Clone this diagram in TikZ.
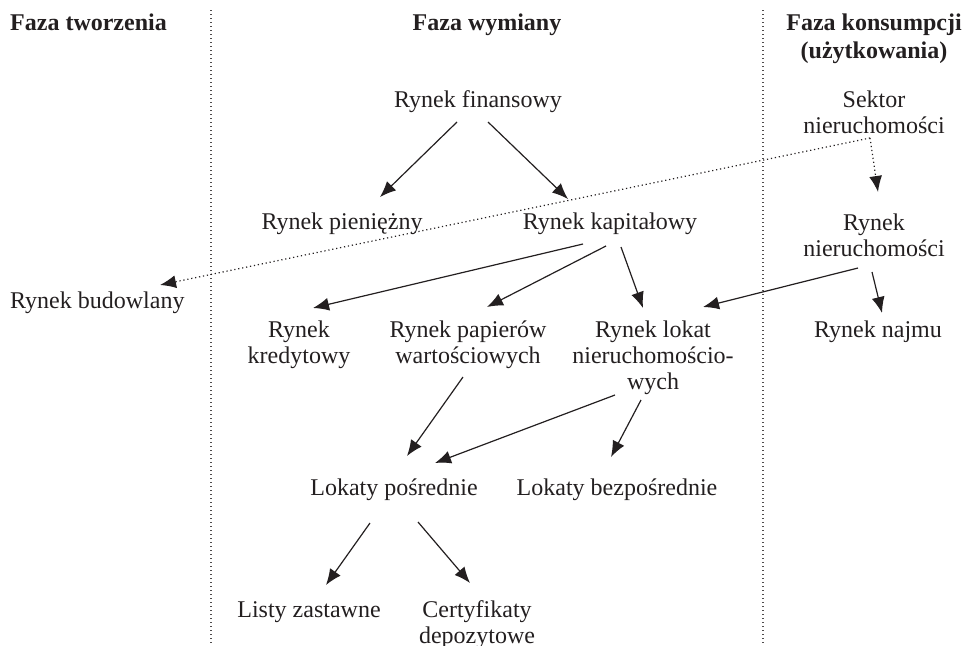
\documentclass[tikz,border=0pt]{standalone}
\usepackage{fontspec}
\setmainfont{Liberation Serif}
\usetikzlibrary{arrows.meta,calc}
\definecolor{ink}{HTML}{231F20}
\begin{document}
\begin{tikzpicture}[x=1pt,y=-1pt,
  lbl/.style={font=\fontsize{24}{26}\selectfont, inner sep=0pt, align=center, anchor=base, text=ink},
  hdr/.style={lbl, font=\fontsize{24}{28}\selectfont\bfseries},
  arr/.style={draw=ink, line width=1.2pt, -{Latex[length=16pt,width=13pt]}},
  dotarr/.style={draw=ink, line width=1.2pt, dash pattern=on 1.2pt off 2.8pt, -{Latex[length=16pt,width=13pt]}},
  sep/.style={draw=ink!80, line width=1.1pt, dash pattern=on 1.2pt off 2.8pt}]
\useasboundingbox (0,0) rectangle (965,645);
% column separators
\draw[sep] (211,10) -- (211,645);
\draw[sep] (763,10) -- (763,645);
% headers (anchor = baseline of the last line)
\node[hdr, anchor=base west] (h1) at (10,30) {Faza tworzenia};
\node[hdr] (h2) at (487,30) {Faza wymiany};
\node[hdr] (h3) at (874,58) {Faza konsumpcji\\(użytkowania)};
% nodes
\node[lbl] (fin) at (478,107) {Rynek finansowy};
\node[lbl] (sek) at (874,133) {Sektor\\nieruchomości};
\node[lbl] (pien) at (342,229) {Rynek pieniężny};
\node[lbl] (kap) at (610,229) {Rynek kapitałowy};
\node[lbl] (rnier) at (874,256) {Rynek\\nieruchomości};
\node[lbl, anchor=base west] (bud) at (10,308) {Rynek budowlany};
\node[lbl] (kred) at (299,363) {Rynek\\kredytowy};
\node[lbl] (pap) at (468,363) {Rynek papierów\\wartościowych};
\node[lbl] (lok) at (653,389) {Rynek lokat\\nieruchomościo-\\wych};
\node[lbl] (najm) at (878,337) {Rynek najmu};
\node[lbl] (lpos) at (394,495) {Lokaty pośrednie};
\node[lbl] (lbez) at (617,495) {Lokaty bezpośrednie};
\node[lbl] (list) at (309,617) {Listy zastawne};
\node[lbl] (cert) at (477,643) {Certyfikaty\\depozytowe};
% arrows
\draw[arr] ($(fin.base)+(-21,15)$) -- ($(pien.base)+(38,-32)$);
\draw[arr] ($(fin.base)+(10,15)$) -- ($(kap.base)+(-42,-30)$);
\draw[arr] ($(kap.base)+(-27,15)$) -- ($(kred.base)+(14,-55)$);
\draw[arr] ($(kap.base)+(-4,17)$) -- ($(pap.base)+(19,-56)$);
\draw[arr] ($(kap.base)+(11,18)$) -- ($(lok.base)+(-10,-81)$);
\draw[arr] ($(rnier.base)+(-16,12)$) -- ($(lok.base)+(50,-82)$);
\draw[arr] ($(rnier.base)+(-2,16)$) -- ($(najm.base)+(4,-24)$);
\draw[arr] ($(pap.base)+(-5,14)$) -- ($(lpos.base)+(13,-39)$);
\draw[arr] ($(lok.base)+(-38,6)$) -- ($(lpos.base)+(41,-32)$);
\draw[arr] ($(lok.base)+(-12,11)$) -- ($(lbez.base)+(-6,-38)$);
\draw[arr] ($(lpos.base)+(-24,28)$) -- ($(list.base)+(17,-32)$);
\draw[arr] ($(lpos.base)+(24,27)$) -- ($(cert.base)+(-7,-60)$);
% dotted arrows
\draw[dotarr] ($(sek.base)+(-4,5)$) -- ($(bud.base west)+(150,-23)$);
\draw[dotarr] ($(sek.base)+(-4,5)$) -- ($(rnier.base)+(4,-64)$);
\end{tikzpicture}
\end{document}
